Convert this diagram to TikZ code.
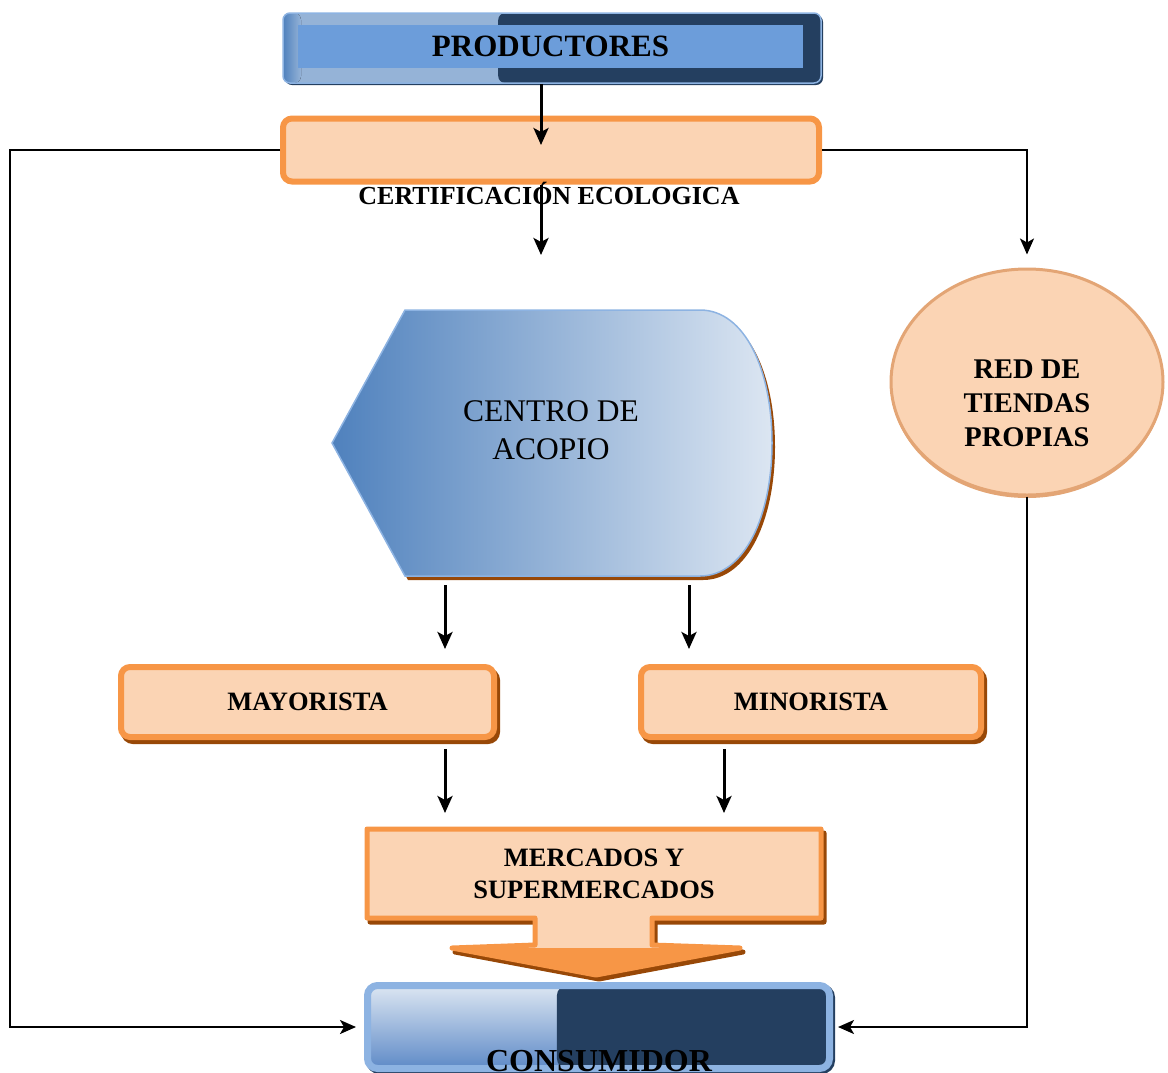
\documentclass[tikz,border=0pt]{standalone}
\usepackage{fontspec}
\setmainfont{Liberation Serif}
\usetikzlibrary{arrows.meta,positioning,calc,shapes.geometric}
\definecolor{orangeline}{HTML}{F79646}
\definecolor{peach}{HTML}{FBD4B4}
\definecolor{rust}{HTML}{984807}
\definecolor{navy}{HTML}{243F60}
\definecolor{skyline}{HTML}{8DB3E2}
\definecolor{barlight}{HTML}{95B3D7}
\definecolor{barblue}{HTML}{6C9DDA}
\definecolor{deepblue}{HTML}{4F81BD}
\definecolor{midblue}{HTML}{5E8AC7}
\definecolor{paleblue}{HTML}{DCE6F2}
\definecolor{tanline}{HTML}{E3A575}
\tikzset{
  arrow/.style={-{Stealth[length=17pt, width=15pt, inset=4pt]}, line width=3pt},
  thinarrow/.style={-{Stealth[length=16pt, width=14pt, inset=4pt]}, line width=2pt},
  boldtxt/.style={font=\fontsize{26.5}{32}\selectfont\bfseries, align=center},
  peachbox/.style={draw=orangeline, fill=peach, line width=6pt, rounded corners=9pt, inner sep=0pt},
  shadowed/.style={preaction={draw=rust, line width=6pt, transform canvas={xshift=3pt, yshift=-4pt}}},
  navybar/.style={draw=skyline, line width=1.5pt, rounded corners=7pt, inner sep=0pt,
    preaction={fill=navy, transform canvas={xshift=2pt, yshift=-2pt}},
    path picture={
      \fill[barlight] (path picture bounding box.north west) rectangle (path picture bounding box.south east);
      \fill[left color=deepblue, right color=barlight] (path picture bounding box.north west) rectangle ($(path picture bounding box.south west)+(18,0)$);
      \fill[navy] ($(path picture bounding box.north west)!0.4!(path picture bounding box.north east)$) rectangle (path picture bounding box.south east);
    }},
  prodbar/.style={fill=barblue, minimum width=505pt, minimum height=43pt, inner sep=0pt,
    font=\fontsize{31}{36}\selectfont\bfseries},
  consbar/.style={draw=skyline, line width=7pt, rounded corners=10pt, inner sep=0pt,
    preaction={draw=navy, line width=7pt, transform canvas={xshift=2pt, yshift=-2pt}},
    path picture={
      \fill[top color=paleblue, bottom color=midblue] (path picture bounding box.north west) rectangle (path picture bounding box.south east);
      \fill[navy] ($(path picture bounding box.north west)!0.41!(path picture bounding box.north east)$) rectangle (path picture bounding box.south east);
    }},
  acopioshape/.style={draw=skyline, line width=1.5pt, left color=deepblue, right color=paleblue,
    preaction={fill=rust, transform canvas={xshift=3pt, yshift=-4pt}}},
  mercshape/.style={draw=orangeline, fill=peach, line width=5pt, line join=round,
    preaction={draw=rust, fill=rust, line width=5pt, line join=round, transform canvas={xshift=3pt, yshift=-4pt}}},
  tiendas/.style={ellipse, draw=tanline, fill=peach, line width=3pt, inner sep=0pt,
    minimum width=272pt, minimum height=226pt},
}
\begin{document}
\begin{tikzpicture}[x=1pt,y=-1pt]
  \useasboundingbox (0,0) rectangle (1168,1072);

  % productores
  \node[navybar, minimum width=538pt, minimum height=70pt] (prod) at (552,48) {};
  \node[prodbar] (prodtxt) at (550.5,46.5) {PRODUCTORES};

  % certificacion
  \node[peachbox, minimum width=536pt, minimum height=63pt] (cert) at (551,150) {};
  \node[boldtxt, font=\fontsize{26}{30}\selectfont\bfseries] (certtxt) at (549,193) {CERTIFICACIÓN ECOLOGICA};

  % centro de acopio
  \draw[acopioshape] (405,310) -- (700,310)
    .. controls (745,310) and (772,370) .. (772,443)
    .. controls (772,515) and (745,576) .. (700,576)
    -- (405,576) -- (332,443) -- cycle;
  \node[align=center, font=\fontsize{31.5}{38}\selectfont] (acopio) at (551,430) {CENTRO DE\\ACOPIO};

  % red de tiendas
  \node[tiendas, preaction={fill=tanline, transform canvas={yshift=-3pt}}] (red) at (1027,382) {};
  \node[align=center, font=\fontsize{28.5}{34}\selectfont\bfseries] (redtxt) at (1027,403) {RED DE\\TIENDAS\\PROPIAS};

  % mayorista / minorista
  \node[peachbox, shadowed, boldtxt, minimum width=373pt, minimum height=70pt] (may) at (307.5,702) {MAYORISTA};
  \node[peachbox, shadowed, boldtxt, minimum width=340pt, minimum height=70pt] (min) at (811,702) {MINORISTA};

  % mercados
  \draw[mercshape] (367,829) -- (821,829) -- (821,918) -- (652,918) -- (652,945)
    -- (740,948) -- (596,975) -- (452,948) -- (535,945) -- (535,918) -- (367,918) -- cycle;
  \fill[orangeline] (452,948) -- (740,948) -- (596,975) -- cycle;
  \node[boldtxt] (merc) at (594,874) {MERCADOS Y\\SUPERMERCADOS};

  % consumidor
  \node[consbar, minimum width=462pt, minimum height=83pt] (cons) at (598.5,1027) {};
  \node[font=\fontsize{32}{36}\selectfont\bfseries] (constxt) at (599,1061) {CONSUMIDOR};

  % arrows
  \coordinate (c1) at (541,145);
  \coordinate (c2) at (541,255);
  \draw[arrow] (prod.south -| c1) -- (c1);
  \draw[arrow] (cert.south -| c2) -- (c2);

  \coordinate (acL) at (445,585);
  \coordinate (acR) at (689,585);
  \coordinate (mayT) at (445,649);
  \coordinate (minT) at (689,649);
  \draw[arrow] (acL) -- (mayT);
  \draw[arrow] (acR) -- (minT);

  \coordinate (mercL) at (445,813);
  \coordinate (mercR) at (724,813);
  \draw[arrow, shorten <=9pt] (may.south -| mercL) -- (mercL);
  \draw[arrow, shorten <=9pt] (min.south -| mercR) -- (mercR);

  \draw[thinarrow, shorten >=13pt] (cert.east) -| (red.north);
  \draw[thinarrow, shorten >=8pt] (cert.west) -- ++(-270,0) |- (cons.west);
  \draw[thinarrow, shorten >=5pt] (red.south) |- (cons.east);
\end{tikzpicture}
\end{document}
